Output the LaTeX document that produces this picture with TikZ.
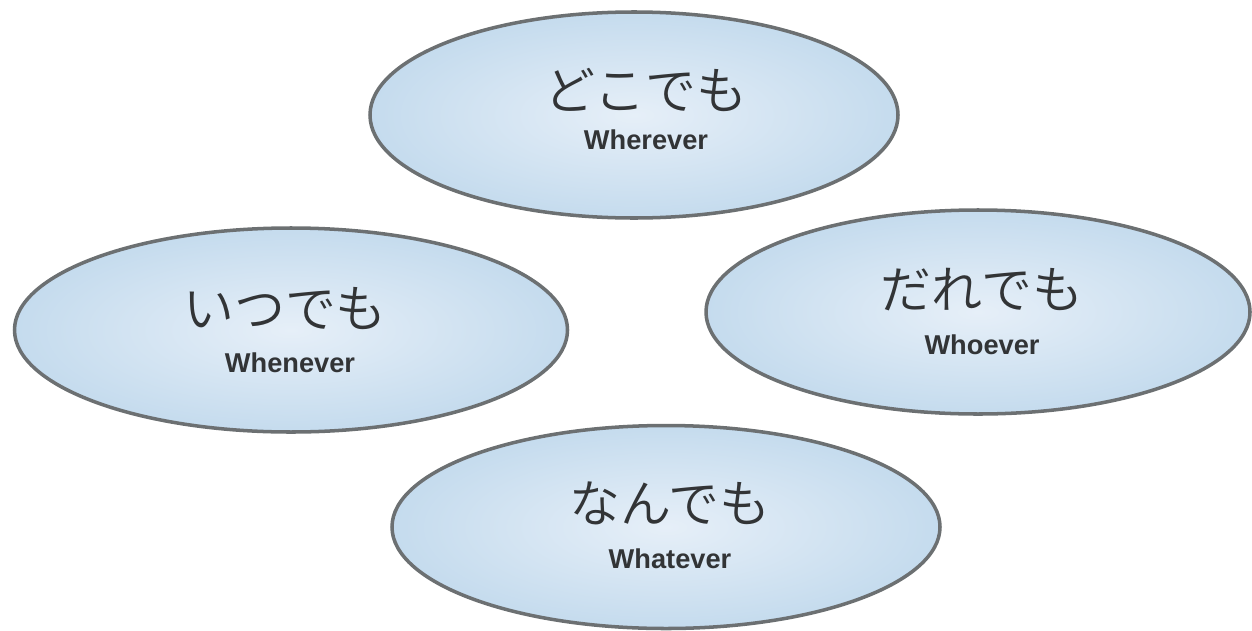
\documentclass[tikz,border=0pt]{standalone}
\usepackage{fontspec}
\usepackage{xcolor}
\usepackage{tikz}
\usetikzlibrary{shapes.geometric}
\newfontfamily\jpfont{Noto Sans CJK JP DemiLight}
\newfontfamily\enfont{Liberation Sans}

\definecolor{ovalin}{RGB}{230,239,248}
\definecolor{ovalmid}{RGB}{198,220,238}
\definecolor{ovalout}{RGB}{162,197,225}
\definecolor{ovalline}{RGB}{108,112,114}
\definecolor{txtgray}{RGB}{50,52,54}

\pgfdeclareradialshading{ovalshade}{\pgfpoint{0bp}{0bp}}{%
  color(0bp)=(ovalin); color(24bp)=(ovalmid); color(50bp)=(ovalout); color(72bp)=(ovalout)}

\tikzset{
  oval/.style={ellipse, draw=ovalline, line width=2pt, shading=ovalshade, inner sep=0pt},
  jp/.style={font=\jpfont\fontsize{29pt}{29pt}\selectfont, text=txtgray, inner sep=0pt},
  en/.style={font=\enfont\bfseries\fontsize{15.5pt}{15.5pt}\selectfont, text=txtgray, inner sep=0pt}
}

\begin{document}
\begin{tikzpicture}
    \useasboundingbox (0,0) rectangle (25.04,12.6);

    % ovals
    \node[oval, minimum width=10.56cm, minimum height=4.12cm] (where) at (12.68,10.30) {};
    \node[oval, minimum width=11.06cm, minimum height=4.08cm] (when) at (5.82,6.00) {};
    \node[oval, minimum width=10.88cm, minimum height=4.08cm] (who) at (19.56,6.36) {};
    \node[oval, minimum width=10.96cm, minimum height=4.06cm] (what) at (13.32,2.06) {};

    % labels
    \node[jp] (whereJ) at (12.92,10.80) {どこでも};
    \node[en] (whereE) at (12.92,9.80) {Wherever};

    \node[jp] (whenJ) at (5.70,6.42) {いつでも};
    \node[en] (whenE) at (5.80,5.34) {Whenever};

    \node[jp] (whoJ) at (19.64,6.80) {だれでも};
    \node[en] (whoE) at (19.64,5.70) {Whoever};

    \node[jp] (whatJ) at (13.40,2.54) {なんでも};
    \node[en] (whatE) at (13.40,1.42) {Whatever};
\end{tikzpicture}
\end{document}
